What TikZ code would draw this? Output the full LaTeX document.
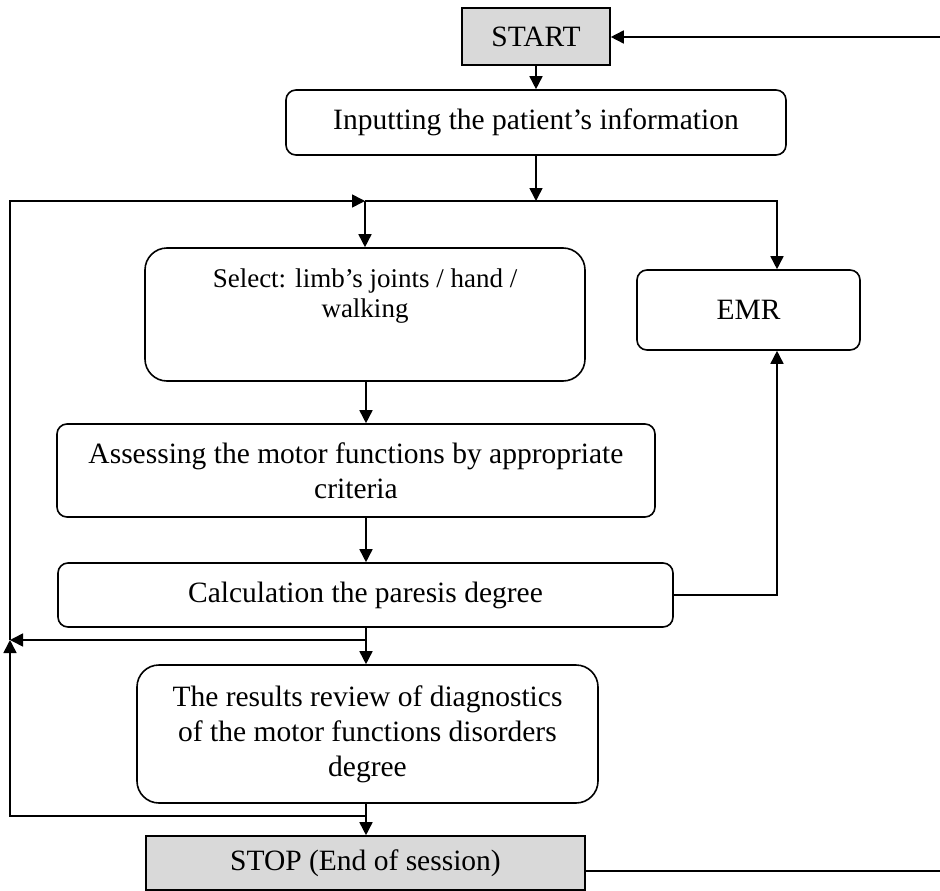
\documentclass[tikz,border=0pt]{standalone}
\usepackage{fontspec}
\setmainfont{Liberation Serif}
\usetikzlibrary{positioning,arrows.meta}

\begin{document}
\begin{tikzpicture}[
  x=1pt, y=-1pt,
  font=\fontsize{29.5}{35}\selectfont,
  >={Triangle[length=13pt, width=13pt]},
  line width=1.6pt,
  blk/.style={draw, rounded corners=10pt, align=center, inner sep=4pt},
  term/.style={draw, fill=gray!30, align=center, inner sep=4pt},
  ar/.style={->},
]
  \useasboundingbox (0,0) rectangle (940,891);

  % terminals
  \node[term, minimum width=148pt, minimum height=57pt] (start) at (536,36.5) {START};
  \node[term, minimum width=439pt, minimum height=54pt] (stop) at (365.5,863) {STOP (End of session)};

  % process boxes
  \node[blk, minimum width=500pt, minimum height=65pt] (inp) at (536,122.5)
        {Inputting the patient’s information};
  \node[blk, rounded corners=22pt, minimum width=440pt, minimum height=133pt] (sel) at (365,314.5) {};
  \node[font=\fontsize{27}{30}\selectfont, align=center, anchor=north, inner sep=0pt]
        at ([yshift=-21pt]sel.north) {Select: limb’s joints / hand /\\walking};
  \node[blk, minimum width=223pt, minimum height=80pt] (emr) at (748.5,310) {EMR};
  \node[blk, minimum width=598pt, minimum height=93pt] (ass) at (356,470.5)
        {Assessing the motor functions by appropriate\\criteria};
  \node[blk, minimum width=615pt, minimum height=64pt] (calc) at (365.5,595)
        {Calculation the paresis degree};
  \node[blk, rounded corners=22pt, minimum width=461pt, minimum height=138pt] (res) at (367.5,734)
        {The results review of diagnostics\\of the motor functions disorders\\degree};

  % junctions
  \coordinate (cx) at (366,0);
  \coordinate (ex) at (777,0);
  \coordinate (top) at (365,201);
  \coordinate (j1) at (536,201);
  \coordinate (j2) at (366,640);
  \coordinate (j3) at (366,816);
  \coordinate (l2) at (10,640);
  \coordinate (re1) at (940,37);
  \coordinate (re2) at (940,871);

  % main flow
  \draw[ar] (start) -- (inp);
  \draw[ar] (inp.south) -- (j1);
  \draw (top) -- (j1);
  \draw[ar] (j1) -- (j1 -| ex) -- (emr.north -| ex);
  \draw[ar] (top) -- (sel.north |- top) -- (sel.north);
  \draw[ar] (sel.south -| cx) -- (ass.north -| cx);
  \draw[ar] (ass.south -| cx) -- (calc.north -| cx);
  \draw[ar] (calc.east) -| (emr.south -| ex);
  \draw (calc.south -| cx) -- (j2);
  \draw[ar] (j2) -- (res.north -| cx);
  \draw (res.south -| cx) -- (j3);
  \draw[ar] (j3) -- (stop.north -| cx);

  % loops back
  \draw[ar] (j2) -- (l2);
  \draw[ar] (l2) |- (top);
  \draw[ar] (j3) -| (l2);
  \draw[ar] (re1) -- (start.east |- re1);
  \draw (stop.east |- re2) -- (re2);
\end{tikzpicture}
\end{document}
